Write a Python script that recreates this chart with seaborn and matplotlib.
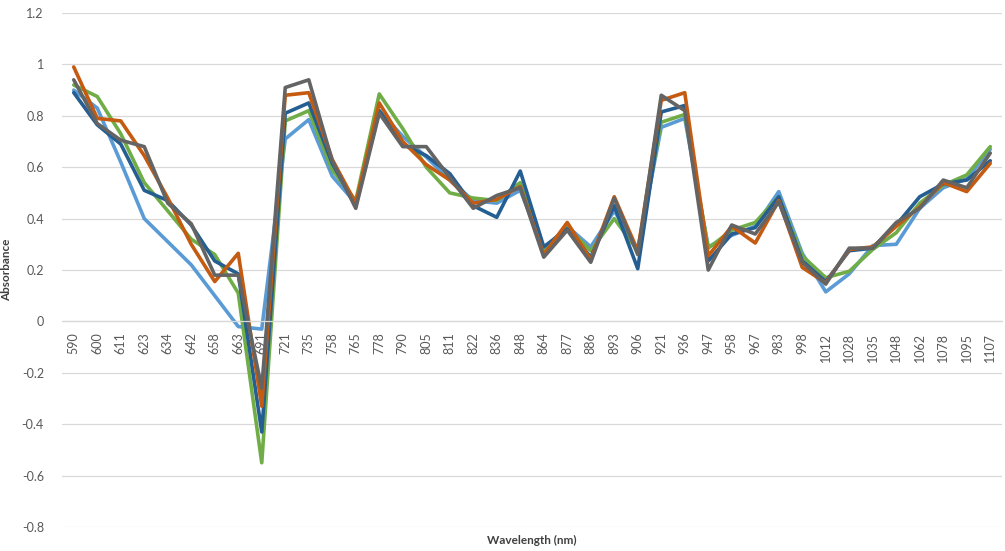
import numpy as np, pandas as pd, matplotlib
matplotlib.use("Agg"); import matplotlib.pyplot as plt
import seaborn as sns
from matplotlib.ticker import FixedLocator, FuncFormatter

wavelengths = ["590","600","611","623","634","642","658","663","691","721","735","758","765","778",
               "790","805","811","822","836","848","864","877","886","893","906","921","936","947",
               "958","967","983","998","1012","1028","1035","1048","1062","1078","1095","1107"]
s_lightblue = [0.90,0.83,0.62,0.40,0.31,0.22,0.10,-0.02,-0.03,0.71,0.785,0.565,0.46,0.82,0.72,0.64,0.55,0.47,0.46,0.51,
               0.28,0.37,0.29,0.43,0.28,0.755,0.79,0.29,0.335,0.37,0.505,0.265,0.115,0.185,0.295,0.30,0.44,0.52,0.555,0.67]
s_green = [0.92,0.875,0.73,0.54,0.43,0.32,0.26,0.11,-0.55,0.78,0.82,0.59,0.47,0.885,0.75,0.60,0.50,0.48,0.47,0.54,
           0.27,0.365,0.275,0.40,0.275,0.775,0.805,0.285,0.355,0.385,0.485,0.255,0.17,0.195,0.28,0.345,0.46,0.53,0.57,0.68]
s_darkblue = [0.89,0.765,0.69,0.51,0.47,0.375,0.235,0.185,-0.43,0.81,0.85,0.615,0.45,0.82,0.69,0.645,0.575,0.45,0.405,0.585,
              0.29,0.36,0.25,0.45,0.205,0.815,0.84,0.235,0.34,0.365,0.485,0.235,0.155,0.275,0.285,0.375,0.485,0.535,0.55,0.625]
s_orange = [0.99,0.79,0.78,0.645,0.48,0.30,0.155,0.265,-0.33,0.88,0.89,0.63,0.46,0.85,0.70,0.61,0.55,0.46,0.475,0.525,
            0.26,0.385,0.24,0.485,0.275,0.86,0.89,0.255,0.37,0.305,0.47,0.21,0.15,0.28,0.29,0.37,0.445,0.54,0.505,0.615]
s_gray = [0.94,0.77,0.705,0.68,0.46,0.38,0.18,0.18,-0.26,0.91,0.94,0.625,0.44,0.81,0.68,0.68,0.56,0.44,0.49,0.52,
          0.25,0.355,0.23,0.48,0.26,0.88,0.82,0.20,0.375,0.34,0.465,0.23,0.145,0.285,0.285,0.385,0.44,0.55,0.52,0.655]
series = {"S1": s_lightblue, "S2": s_green, "S3": s_darkblue, "S4": s_orange, "S5": s_gray}
colors = ["#5B9BD5", "#70AD47", "#255E91", "#C55A11", "#646464"]
yticks = [-0.8, -0.6, -0.4, -0.2, 0, 0.2, 0.4, 0.6, 0.8, 1, 1.2]

pos = np.arange(len(wavelengths))
df = pd.concat([pd.DataFrame({"pos": pos, "val": v, "series": k}) for k, v in series.items()])

sns.set_style("white")
plt.rcParams["font.family"] = ["Lato", "DejaVu Sans"]
fig = plt.figure(figsize=(10.05, 5.51), dpi=100)
ax = fig.add_axes([62/1005, 24/551, 940/1005, 514/551])
sns.lineplot(data=df, x="pos", y="val", hue="series", palette=colors, lw=2.6, legend=False, ax=ax,
             solid_joinstyle="round", solid_capstyle="round")

ax.set_xlim(-0.5, len(wavelengths) - 0.5); ax.set_ylim(-0.8, 1.2)
ax.set_yticks(yticks)
ax.yaxis.set_major_formatter(FuncFormatter(lambda v, _: f"{round(v, 1):g}"))
ax.grid(axis="y", color="#d9d9d9", lw=0.9); ax.set_axisbelow(True)
for s in ["top", "right", "left"]:
    ax.spines[s].set_visible(False)
ax.spines["bottom"].set_position(("data", 0)); ax.spines["bottom"].set_color("#d9d9d9")
ax.spines["bottom"].set_linewidth(0.9)
ax.set_xticks(pos); ax.set_xticklabels(wavelengths, rotation=90)
ax.xaxis.set_minor_locator(FixedLocator(np.arange(-0.5, len(wavelengths), 1)))
ax.tick_params(axis="x", which="major", length=0, pad=8, labelsize=9, labelcolor="#595959")
ax.tick_params(axis="x", which="minor", length=5, width=0.9, color="#d9d9d9", direction="out")
ax.tick_params(axis="y", length=0, pad=13, labelsize=9, labelcolor="#595959")
ax.set_xlabel("Wavelength (nm)", fontsize=8.5, fontweight="bold", color="#404040", va="center")
ax.set_ylabel("Absorbance", fontsize=8.5, fontweight="bold", color="#404040")
ax.xaxis.set_label_coords(0.5, -0.026); ax.yaxis.set_label_coords(-0.053, 0.5)
fig.savefig("out.png", dpi=100)
